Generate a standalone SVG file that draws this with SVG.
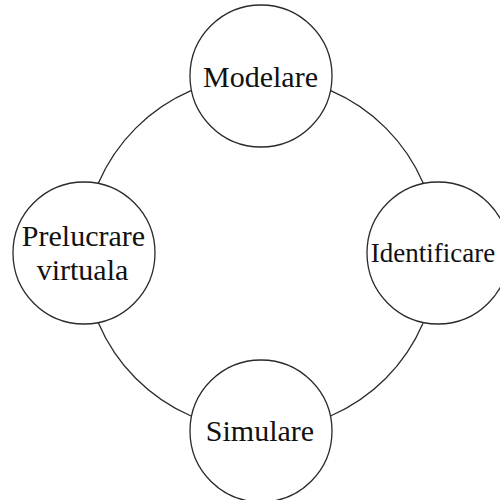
<svg xmlns="http://www.w3.org/2000/svg" width="500" height="500" viewBox="0 0 500 500">
<style>
.arc{fill:none;stroke:#2a2a2a;stroke-width:1.3}
.node circle{fill:#fff;stroke:#2a2a2a;stroke-width:1.3}
.node text{font-family:"Liberation Serif","Times New Roman",serif;font-size:30px;fill:#111;text-anchor:middle}
</style>
<rect width="500" height="500" fill="#fff"/>
<g id="connectors">
<path class="arc" d="M191,90.7 A177,177 0 0 0 98.3,183.3"/>
<path class="arc" d="M330.7,90.7 A177,177 0 0 1 423.3,183.3"/>
<path class="arc" d="M98.3,322.7 A177,177 0 0 0 191,416"/>
<path class="arc" d="M423,323.3 A177,177 0 0 1 330.5,416"/>
</g>
<g id="modelare" class="node">
<circle cx="261" cy="76" r="71"/>
<text x="260.5" y="87">Modelare</text>
</g>
<g id="identificare" class="node">
<circle cx="438" cy="253" r="71"/>
<text x="433" y="262" style="font-size:27px">Identificare</text>
</g>
<g id="simulare" class="node">
<circle cx="261" cy="431" r="71"/>
<text x="260" y="441">Simulare</text>
</g>
<g id="prelucrare" class="node">
<circle cx="84" cy="253" r="71"/>
<text x="83.5" y="246">Prelucrare</text>
<text x="82.5" y="280">virtuala</text>
</g>
</svg>
